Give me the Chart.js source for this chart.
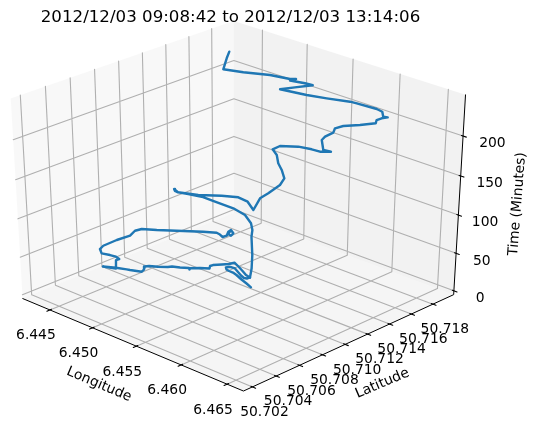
<!DOCTYPE html>
<html><head><meta charset="utf-8"><script src="https://cdn.jsdelivr.net/npm/chart.js@4"></script></head>
<body style="margin:0;background:#fff"><canvas id="c" width="535" height="434" style="display:block"></canvas>
<script>
const titleText='2012/12/03 09:08:42 to 2012/12/03 13:14:06';
const lonTicks=[6.445,6.45,6.455,6.46,6.465];
const latTicks=[50.702,50.704,50.706,50.708,50.71,50.712,50.714,50.716,50.718];
const timeTicks=[0,50,100,150,200];
const lonLimits=[6.44224,6.46625], latLimits=[50.70162,50.71959], timeLimits=[0,245.4];
// first stretch of the walk
const lonA=[6.45423,6.45354,6.45278,6.45195,6.4515,6.45115,6.45078,6.45057,6.45065,6.45091,6.45136,6.45214,6.45292,6.45355,6.4538,6.45394,6.45346,6.45289,6.45212,6.45135,6.45131,6.45107,6.45071,6.45068,6.45111,6.45058,6.45014,6.45028,6.45014,6.44965,6.44914,6.44897,6.44844,6.44792,6.44786,6.44824,6.44853,6.4477,6.44741,6.44665,6.44582,6.44699,6.44587,6.44591,6.44549,6.44489,6.44426,6.44363,6.44345,6.44362,6.444,6.44366,6.44392,6.44508,6.44606,6.44844,6.44951,6.45008,6.4506,6.45076,6.45028,6.4503,6.45092,6.45124,6.45081,6.45057];
const latA=[50.71173,50.71188,50.71202,50.71222,50.71226,50.71218,50.71224,50.71235,50.71252,50.71254,50.71255,50.71221,50.71187,50.71164,50.71171,50.71187,50.71189,50.71207,50.71231,50.71251,50.71205,50.71161,50.71109,50.71086,50.71048,50.71005,50.70951,50.70936,50.70942,50.70901,50.7087,50.70847,50.708,50.70762,50.70731,50.70695,50.70654,50.70615,50.70608,50.70572,50.70522,50.70548,50.7063,50.70655,50.70658,50.7065,50.70625,50.70656,50.70698,50.70802,50.7089,50.70958,50.70998,50.71043,50.71086,50.71197,50.71236,50.71221,50.71205,50.71228,50.7128,50.71302,50.71275,50.71229,50.71236,50.71273];
const timeA=[0,1,2,3,4,5,5,6,6,7,7,8,9,10,10,11,12,13,14,15,16,17,18,18,19,20,21,21,22,23,24,24,25,26,27,27,28,29,29,30,31,32,33,33,34,34,35,36,37,39,41,42,43,44,45,47,48,49,49,50,50,51,51,52,52,52];
// second stretch of the walk
const lonB=[6.45832,6.45735,6.45576,6.45346,6.45266,6.45183,6.45059,6.44924,6.44761,6.4464,6.44553,6.44502,6.44449,6.44497,6.44546,6.44754,6.44949,6.45105,6.45247,6.45423,6.45326,6.45335,6.45316,6.45266,6.45149,6.45051,6.44939,6.44862,6.4489,6.45069,6.45234,6.45354,6.45453,6.45451,6.45373,6.45389,6.45447,6.45461,6.45557,6.45721,6.45879,6.45859,6.45909,6.45976,6.45964,6.4592,6.45871,6.45718,6.45679,6.45553,6.45423,6.45231,6.45311,6.45407,6.45344,6.45284,6.45239,6.45263,6.4524,6.45087,6.44928,6.44803,6.44671,6.44596];
const latB=[50.70841,50.70932,50.71063,50.71237,50.71308,50.71361,50.71405,50.71406,50.71369,50.71344,50.71291,50.71242,50.71245,50.71217,50.71206,50.71227,50.71283,50.71309,50.7128,50.71192,50.71327,50.71393,50.71512,50.71591,50.71661,50.71708,50.71784,50.71808,50.71852,50.71875,50.71862,50.71839,50.71857,50.71788,50.71837,50.71853,50.71879,50.71882,50.71876,50.71889,50.71896,50.71921,50.71923,50.7192,50.71889,50.71917,50.71908,50.71856,50.71828,50.71723,50.71651,50.71572,50.71638,50.71717,50.717,50.71675,50.71652,50.71686,50.71651,50.71598,50.71491,50.71415,50.71547,50.71628];
const timeB=[53,55,57,60,61,63,66,69,73,76,79,82,84,85,86,90,94,97,99,101,104,107,110,112,114,116,118,121,124,129,133,136,139,145,152,156,162,168,175,182,190,192,196,200,202,205,207,211,213,218,221,225,227,229,230,231,232,233,234,236,239,242,244,245.4];

// camera of the 3D view, and where its plane sits on the canvas
const W=535,H=434, azim=-46.25, elev=31, dist=10, scaleX=3005, originX=238.45, scaleY=2237.9, originY=199.28;
const rad=Math.PI/180, A=azim*rad, E=elev*rad;
const U=[-Math.sin(A),Math.cos(A),0], N=[Math.cos(E)*Math.cos(A),Math.cos(E)*Math.sin(A),Math.sin(E)];
const V=[N[1]*U[2]-N[2]*U[1],N[2]*U[0]-N[0]*U[2],N[0]*U[1]-N[1]*U[0]];
const dot=(a,p)=>a[0]*p[0]+a[1]*p[1]+a[2]*p[2];
const project=(x,y,z)=>{const p=[x,y,z],d=dist-dot(N,p);return {x:dot(U,p)/d,y:dot(V,p)/d};};
const cube=(v,l)=>(v-l[0])/(l[1]-l[0])-0.5;
const pLon=v=>cube(v,lonLimits), pLat=v=>cube(v,latLimits), pTime=v=>cube(v,timeLimits);
const R=0.5+1/48, GAP={x:NaN,y:NaN}, OUT=1/72, IN=1/144;
const track=(lo,la,ti)=>lo.map((v,i)=>project(pLon(v),pLat(la[i]),pTime(ti[i])));
const poly=a=>a.map(p=>project(p[0],p[1],p[2]));

const grid=[];
lonTicks.forEach(v=>{const x=pLon(v);grid.push(project(x,-R,-R),project(x,R,-R),project(x,R,R),GAP);});
latTicks.forEach(v=>{const y=pLat(v);grid.push(project(R,y,-R),project(-R,y,-R),project(-R,y,R),GAP);});
timeTicks.forEach(v=>{const z=pTime(v);grid.push(project(-R,-R,z),project(-R,R,z),project(R,R,z),GAP);});
const marks=[];
lonTicks.forEach(v=>{const x=pLon(v);marks.push(project(x,-R-OUT,-R),project(x,-R+IN,-R),GAP);});
latTicks.forEach(v=>{const y=pLat(v);marks.push(project(R+OUT,y,-R),project(R-IN,y,-R),GAP);});
timeTicks.forEach(v=>{const z=pTime(v);marks.push(project(R+OUT,R,z),project(R-IN,R,z),GAP);});
const spines=poly([[-R,-R,-R],[R,-R,-R],[R,R,-R],[R,R,R]]);
const pane=(pts,col,o)=>({data:poly(pts),showLine:true,fill:'shape',backgroundColor:col,borderColor:'rgba(0,0,0,0)',borderWidth:0,pointRadius:0,order:o});
const stroke=(data,col,w,o)=>({data,showLine:true,fill:false,borderColor:col,borderWidth:w,pointRadius:0,tension:0,spanGaps:false,order:o,borderJoinStyle:'round',borderCapStyle:'round'});

const lonLabelDX=-14, lonLabelDY=25.8, latLabelDX=12, latLabelDY=25.7, timeLabelDX=[26.3,25.6,26.7,29,29.3], timeLabelDY=7.8;
const textPlugin={id:'text3d',afterDraw(ch){
  const c=ch.ctx,sx=ch.scales.x,sy=ch.scales.y;
  const at=p=>[sx.getPixelForValue(p.x),sy.getPixelForValue(p.y)];
  const put=(s,x,y,px,rot)=>{c.save();c.translate(x,y);c.rotate((rot||0)*rad);c.font=px+'px "DejaVu Sans"';c.fillStyle='#000';c.textAlign='center';c.textBaseline='middle';c.fillText(s,0,0);c.restore();};
  put(titleText,230.5,18,16.67);
  lonTicks.forEach(v=>{const [x,y]=at(project(pLon(v),-R,-R));put(v.toFixed(3),x+lonLabelDX,y+lonLabelDY,13.89);});
  latTicks.forEach(v=>{const [x,y]=at(project(R,pLat(v),-R));put(v.toFixed(3),x+latLabelDX,y+latLabelDY,13.89);});
  timeTicks.forEach((v,i)=>{const [x,y]=at(project(R,R,pTime(v)));put(String(v),x+timeLabelDX[i],y+timeLabelDY,13.89);});
  put('Longitude',99,384.5,13.89,23);
  put('Latitude',382.3,383.5,13.89,-23);
  put('Time (Minutes)',517.5,204,13.89,-85.5);
}};

new Chart(document.getElementById('c'),{
 type:'scatter',
 data:{datasets:[
  pane([[-R,-R,-R],[-R,R,-R],[-R,R,R],[-R,-R,R]],'rgba(242,242,242,0.5)',10),
  pane([[-R,R,-R],[R,R,-R],[R,R,R],[-R,R,R]],'rgba(230,230,230,0.5)',9),
  pane([[-R,-R,-R],[R,-R,-R],[R,R,-R],[-R,R,-R]],'rgba(236,236,236,0.5)',8),
  stroke(grid,'#b0b0b0',1.1,7),
  stroke(spines,'#000',1,6),
  stroke(marks,'#000',1.1,5),
  stroke(track(lonA,latA,timeA),'#1f77b4',2.4,2),
  stroke(track(lonB,latB,timeB),'#1f77b4',2.4,1)
 ]},
 options:{responsive:false,animation:false,devicePixelRatio:1,layout:{padding:0},
  plugins:{legend:{display:false},tooltip:{enabled:false},title:{display:false}},
  scales:{
   x:{type:'linear',display:false,min:(0-originX)/scaleX,max:(W-originX)/scaleX},
   y:{type:'linear',display:false,min:(originY-H)/scaleY,max:originY/scaleY}
  }},
 plugins:[textPlugin]
});
</script></body></html>
